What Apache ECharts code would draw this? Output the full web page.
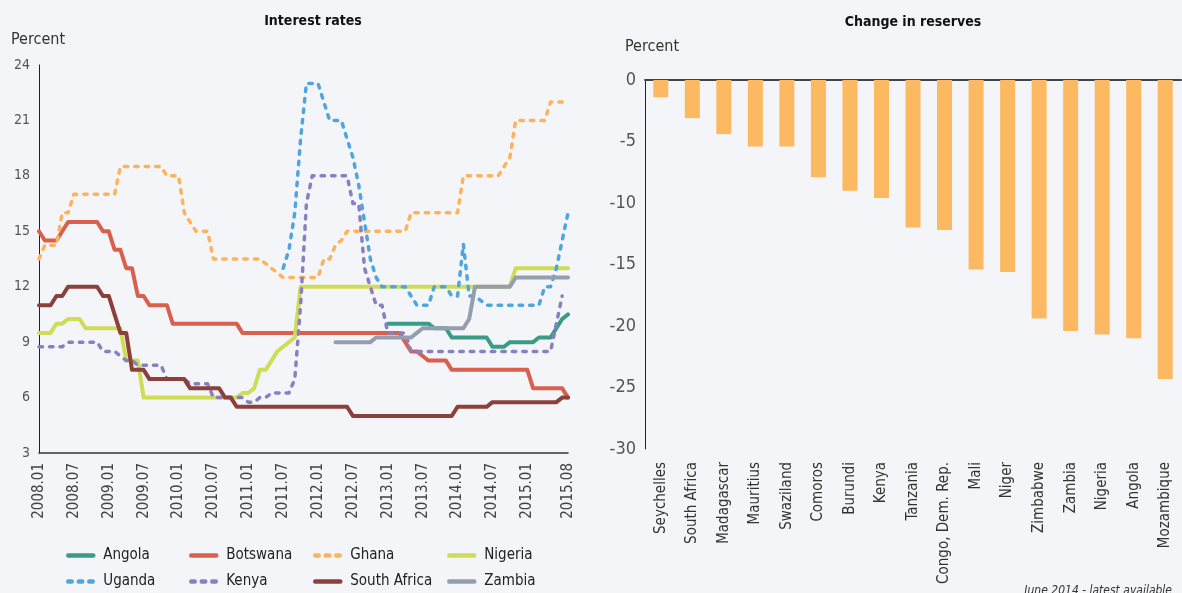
<!DOCTYPE html>
<html>
<head>
<meta charset="utf-8">
<title>Interest rates and change in reserves</title>
<script src="https://cdn.jsdelivr.net/npm/echarts@6/dist/echarts.min.js"></script>
<style>
	html, body { margin: 0; padding: 0; background: #f4f5f8; }
	#main { width: 1182px; height: 593px; }
</style>
</head>
<body>
<div id="main"></div>
<script>
// 月份类目 2008.01 - 2015.08
var months = [];
for ( var y = 2008; y <= 2015; y++) {
	for ( var m = 1; m <= 12; m++) {
		if (y === 2015 && m > 8) break;
		months.push(y + '.' + (m < 10 ? '0' + m : m));
	}
}

// 利率（按年分行）
var angola = [
	null, null, null, null, null, null, null, null, null, null, null, null,
	null, null, null, null, null, null, null, null, null, null, null, null,
	null, null, null, null, null, null, null, null, null, null, null, null,
	null, null, null, null, null, null, null, null, null, null, null, null,
	null, null, null, null, null, null, null, null, null, null, null, null,
	10, 10, 10, 10, 10, 10, 10, 10, 9.75, 9.75, 9.75, 9.25,
	9.25, 9.25, 9.25, 9.25, 9.25, 9.25, 8.75, 8.75, 8.75, 9, 9, 9,
	9, 9, 9.25, 9.25, 9.25, 9.75, 10.25, 10.5 ];
var botswana = [
	15, 14.5, 14.5, 14.5, 15, 15.5, 15.5, 15.5, 15.5, 15.5, 15.5, 15,
	15, 14, 14, 13, 13, 11.5, 11.5, 11, 11, 11, 11, 10,
	10, 10, 10, 10, 10, 10, 10, 10, 10, 10, 10, 9.5,
	9.5, 9.5, 9.5, 9.5, 9.5, 9.5, 9.5, 9.5, 9.5, 9.5, 9.5, 9.5,
	9.5, 9.5, 9.5, 9.5, 9.5, 9.5, 9.5, 9.5, 9.5, 9.5, 9.5, 9.5,
	9.5, 9.5, 9.5, 9, 8.5, 8.5, 8.25, 8, 8, 8, 8, 7.5,
	7.5, 7.5, 7.5, 7.5, 7.5, 7.5, 7.5, 7.5, 7.5, 7.5, 7.5, 7.5,
	7.5, 6.5, 6.5, 6.5, 6.5, 6.5, 6.5, 6 ];
var ghana = [
	13.5, 14.25, 14.25, 14.25, 16, 16, 17, 17, 17, 17, 17, 17,
	17, 17, 18.5, 18.5, 18.5, 18.5, 18.5, 18.5, 18.5, 18.5, 18, 18,
	18, 16, 15.5, 15, 15, 15, 13.5, 13.5, 13.5, 13.5, 13.5, 13.5,
	13.5, 13.5, 13.5, 13.25, 13, 12.75, 12.5, 12.5, 12.5, 12.5, 12.5, 12.5,
	12.5, 13.5, 13.5, 14.25, 14.5, 15, 15, 15, 15, 15, 15, 15,
	15, 15, 15, 15, 16, 16, 16, 16, 16, 16, 16, 16,
	16, 18, 18, 18, 18, 18, 18, 18, 18.5, 19, 21, 21,
	21, 21, 21, 21, 22, 22, 22, 22 ];
var nigeria = [
	9.5, 9.5, 9.5, 10, 10, 10.25, 10.25, 10.25, 9.75, 9.75, 9.75, 9.75,
	9.75, 9.75, 9.75, 8, 8, 8, 6, 6, 6, 6, 6, 6,
	6, 6, 6, 6, 6, 6, 6, 6, 6, 6, 6, 6.25,
	6.25, 6.5, 7.5, 7.5, 8, 8.5, 8.75, 9, 9.25, 12, 12, 12,
	12, 12, 12, 12, 12, 12, 12, 12, 12, 12, 12, 12,
	12, 12, 12, 12, 12, 12, 12, 12, 12, 12, 12, 12,
	12, 12, 12, 12, 12, 12, 12, 12, 12, 12, 13, 13,
	13, 13, 13, 13, 13, 13, 13, 13 ];
var uganda = [
	null, null, null, null, null, null, null, null, null, null, null, null,
	null, null, null, null, null, null, null, null, null, null, null, null,
	null, null, null, null, null, null, null, null, null, null, null, null,
	null, null, null, null, null, null, 13, 14, 16, 20, 23, 23,
	23, 22, 21, 21, 21, 20, 19, 17.5, 15.5, 13.5, 12.5, 12,
	12, 12, 12, 12, 11.5, 11, 11, 11, 12, 12, 12, 11.5,
	11.5, 14.3, 11.5, 11.5, 11.25, 11, 11, 11, 11, 11, 11, 11,
	11, 11, 11, 12, 12, 13, 14.5, 16 ];
var kenya = [
	8.75, 8.75, 8.75, 8.75, 8.75, 9, 9, 9, 9, 9, 9, 8.5,
	8.5, 8.5, 8.25, 8, 8, 7.75, 7.75, 7.75, 7.75, 7.75, 7, 7,
	7, 7, 6.75, 6.75, 6.75, 6.75, 6, 6, 6, 6, 6, 6,
	5.75, 5.75, 6, 6, 6.25, 6.25, 6.25, 6.25, 7, 11, 16.5, 18,
	18, 18, 18, 18, 18, 18, 16.5, 16.5, 13, 12, 11, 11,
	9.5, 9.5, 9.5, 9.5, 8.5, 8.5, 8.5, 8.5, 8.5, 8.5, 8.5, 8.5,
	8.5, 8.5, 8.5, 8.5, 8.5, 8.5, 8.5, 8.5, 8.5, 8.5, 8.5, 8.5,
	8.5, 8.5, 8.5, 8.5, 8.5, 10, 11.5, null ];
var southAfrica = [
	11, 11, 11, 11.5, 11.5, 12, 12, 12, 12, 12, 12, 11.5,
	11.5, 10.5, 9.5, 9.5, 7.5, 7.5, 7.5, 7, 7, 7, 7, 7,
	7, 7, 6.5, 6.5, 6.5, 6.5, 6.5, 6.5, 6, 6, 5.5, 5.5,
	5.5, 5.5, 5.5, 5.5, 5.5, 5.5, 5.5, 5.5, 5.5, 5.5, 5.5, 5.5,
	5.5, 5.5, 5.5, 5.5, 5.5, 5.5, 5, 5, 5, 5, 5, 5,
	5, 5, 5, 5, 5, 5, 5, 5, 5, 5, 5, 5,
	5.5, 5.5, 5.5, 5.5, 5.5, 5.5, 5.75, 5.75, 5.75, 5.75, 5.75, 5.75,
	5.75, 5.75, 5.75, 5.75, 5.75, 5.75, 6, 6 ];
var zambia = [
	null, null, null, null, null, null, null, null, null, null, null, null,
	null, null, null, null, null, null, null, null, null, null, null, null,
	null, null, null, null, null, null, null, null, null, null, null, null,
	null, null, null, null, null, null, null, null, null, null, null, null,
	null, null, null, 9, 9, 9, 9, 9, 9, 9, 9.25, 9.25,
	9.25, 9.25, 9.25, 9.25, 9.25, 9.5, 9.75, 9.75, 9.75, 9.75, 9.75, 9.75,
	9.75, 9.75, 10.25, 12, 12, 12, 12, 12, 12, 12, 12.5, 12.5,
	12.5, 12.5, 12.5, 12.5, 12.5, 12.5, 12.5, 12.5 ];

// 储备变化
var countries = [ 'Seychelles', 'South Africa', 'Madagascar', 'Mauritius',
		'Swaziland', 'Comoros', 'Burundi', 'Kenya', 'Tanzania',
		'Congo, Dem. Rep.', 'Mali', 'Niger', 'Zimbabwe', 'Zambia', 'Nigeria',
		'Angola', 'Mozambique' ];
var reserveChange = [ -1.4, -3.1, -4.4, -5.4, -5.4, -7.9, -9.0, -9.6, -12.0,
		-12.2, -15.4, -15.6, -19.4, -20.4, -20.7, -21.0, -24.3 ];

var leftTicks = [ 3, 24, 3 ]; // min, max, interval
var rightTicks = [ -30, 0, 5 ];

var fontName = "'DejaVu Sans Condensed', 'DejaVu Sans', sans-serif";

function lineSeries(name, data, color, dashed) {
	return {
		name : name,
		type : 'line',
		xAxisIndex : 0,
		yAxisIndex : 0,
		symbol : 'none',
		connectNulls : false,
		data : data,
		itemStyle : {
			color : color
		},
		lineStyle : {
			color : color,
			width : dashed ? 3.5 : 4,
			type : dashed ? [ 3.5, 7 ] : 'solid',
			cap : 'round',
			join : 'round'
		},
		emphasis : {
			disabled : true
		}
	};
}

// 每个图例单独定位，保证四列对齐
function legendItem(left, top, name) {
	return {
		left : left,
		top : top,
		padding : 0,
		itemWidth : 25,
		itemHeight : 8,
		selectedMode : false,
		data : [ name ],
		itemStyle : {
			opacity : 0 // 隐藏图例中线条中间的圆点
		},
		lineStyle : {
			width : 4.5,
			cap : 'round'
		},
		textStyle : {
			fontFamily : fontName,
			fontSize : 15,
			color : '#222',
			padding : [ 0, 0, 0, 5 ]
		}
	};
}

var chart = echarts.init(document.getElementById('main'));
chart.setOption({
	backgroundColor : '#f4f5f8',
	animation : false,
	textStyle : {
		fontFamily : fontName
	},
	graphic : [ {
		type : 'text',
		x : 313,
		y : 14,
		style : {
			text : 'Interest rates',
			align : 'center',
			verticalAlign : 'top',
			fontFamily : fontName,
			fontSize : 14,
			fontWeight : 'bold',
			fill : '#111'
		}
	}, {
		type : 'text',
		x : 913,
		y : 15,
		style : {
			text : 'Change in reserves',
			align : 'center',
			verticalAlign : 'top',
			fontFamily : fontName,
			fontSize : 14,
			fontWeight : 'bold',
			fill : '#111'
		}
	}, {
		type : 'text',
		x : 11,
		y : 32,
		style : {
			text : 'Percent',
			verticalAlign : 'top',
			fontFamily : fontName,
			fontSize : 16,
			fill : '#333'
		}
	}, {
		type : 'text',
		x : 625,
		y : 39,
		style : {
			text : 'Percent',
			verticalAlign : 'top',
			fontFamily : fontName,
			fontSize : 16,
			fill : '#333'
		}
	}, {
		type : 'text',
		x : 1172,
		y : 585,
		style : {
			text : 'June 2014 - latest available',
			align : 'right',
			verticalAlign : 'top',
			fontFamily : fontName,
			fontSize : 12,
			fontStyle : 'italic',
			fill : '#333'
		}
	} ],
	legend : [ legendItem(66, 548, 'Angola'), legendItem(189, 548, 'Botswana'),
			legendItem(313, 548, 'Ghana'), legendItem(447, 548, 'Nigeria'),
			legendItem(66, 574, 'Uganda'), legendItem(189, 574, 'Kenya'),
			legendItem(313, 574, 'South Africa'),
			legendItem(447, 574, 'Zambia') ],
	grid : [ {
		left : 39,
		top : 65,
		width : 529,
		height : 388
	}, {
		left : 645,
		top : 80,
		width : 536,
		height : 369
	} ],
	xAxis : [ {
		gridIndex : 0,
		type : 'category',
		data : months,
		boundaryGap : false,
		axisLine : {
			onZero : false,
			lineStyle : {
				color : '#333',
				width : 1.5
			}
		},
		axisTick : {
			show : false
		},
		axisLabel : {
			rotate : 90,
			margin : 10,
			fontSize : 15,
			color : '#444',
			interval : function(index) {
				return (index % 6 === 0 && index < 90) || index === 91;
			}
		}
	}, {
		gridIndex : 1,
		type : 'category',
		data : countries,
		position : 'bottom',
		axisLine : {
			show : false,
			onZero : false
		},
		axisTick : {
			show : false
		},
		axisLabel : {
			rotate : 90,
			interval : 0,
			margin : 13,
			fontSize : 15,
			color : '#333'
		}
	}, {
		gridIndex : 1,
		type : 'category',
		data : countries,
		position : 'top',
		axisLine : {
			onZero : false,
			lineStyle : {
				color : '#444',
				width : 2
			}
		},
		axisTick : {
			show : false
		},
		axisLabel : {
			show : false
		}
	} ],
	yAxis : [ {
		gridIndex : 0,
		type : 'value',
		min : leftTicks[0],
		max : leftTicks[1],
		interval : leftTicks[2],
		axisLine : {
			show : true,
			lineStyle : {
				color : '#222'
			}
		},
		axisTick : {
			show : false
		},
		splitLine : {
			show : false
		},
		axisLabel : {
			margin : 9,
			fontSize : 14,
			color : '#555'
		}
	}, {
		gridIndex : 1,
		type : 'value',
		min : rightTicks[0],
		max : rightTicks[1],
		interval : rightTicks[2],
		axisLine : {
			show : true,
			lineStyle : {
				color : '#222'
			}
		},
		axisTick : {
			show : false
		},
		splitLine : {
			show : false
		},
		axisLabel : {
			margin : 9,
			fontSize : 18,
			color : '#555'
		}
	} ],
	series : [ lineSeries('Angola', angola, '#3a9c85', false),
			lineSeries('Botswana', botswana, '#d9604c', false),
			lineSeries('Ghana', ghana, '#fcb35e', true),
			lineSeries('Nigeria', nigeria, '#cedd55', false),
			lineSeries('Uganda', uganda, '#4ea6dd', true),
			lineSeries('Kenya', kenya, '#8a7fc0', true),
			lineSeries('South Africa', southAfrica, '#8c403b', false),
			lineSeries('Zambia', zambia, '#949eae', false), {
				name : 'Change in reserves',
				type : 'bar',
				xAxisIndex : 1,
				yAxisIndex : 1,
				barWidth : 15,
				data : reserveChange,
				itemStyle : {
					color : '#fdb961'
				},
				emphasis : {
					disabled : true
				}
			} ]
});
</script>
</body>
</html>
